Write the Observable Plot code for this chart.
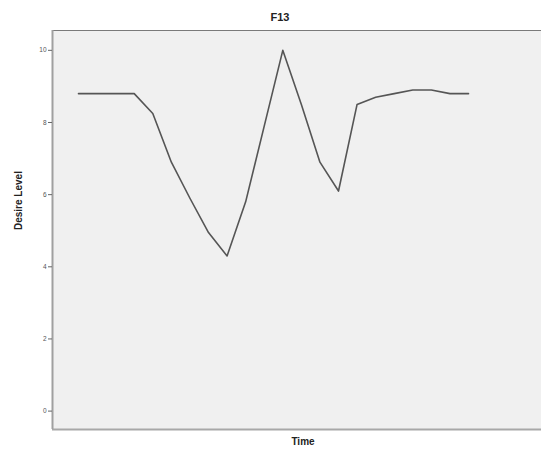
<!DOCTYPE html>
<html>
<head>
<meta charset="utf-8">
<script src="https://cdn.jsdelivr.net/npm/d3@7"></script>
<script src="https://cdn.jsdelivr.net/npm/@observablehq/plot@0.6"></script>
<style>
  html, body { margin: 0; padding: 0; background: #fff; }
  svg { display: block; }
</style>
</head>
<body>
<div id="chart"></div>
<script>
const timeIndex = [0,1,2,3,4,5,6,7,8,9,10,11,12,13,14,15,16,17,18,19,20,21];
const desireLevel = [8.8,8.8,8.8,8.8,8.25,6.9,5.9,4.95,4.3,5.8,7.9,10.0,8.5,6.9,6.1,8.5,8.7,8.8,8.9,8.9,8.8,8.8];
const yTicks = [0,2,4,6,8,10];
const chartTitle = "F13";
const xLabel = "Time";
const yLabel = "Desire Level";

const data = timeIndex.map((t, i) => ({t, v: desireLevel[i]}));

const chart = Plot.plot({
  width: 541,
  height: 454,
  marginLeft: 52,
  marginRight: 0,
  marginTop: 30,
  marginBottom: 25,
  style: {fontFamily: "Liberation Sans, Arial, sans-serif", background: "#fff"},
  x: {domain: [-1.4, 24.93], axis: null},
  y: {domain: [-0.51, 10.55], axis: null},
  marks: [
    Plot.frame({fill: "#f0f0f0", stroke: "none"}),
    Plot.ruleY([-0.51], {stroke: "#a8a8a8", strokeWidth: 2}),
    Plot.ruleY([10.55], {stroke: "#7a7a7a", strokeWidth: 1}),
    Plot.ruleX([-1.4], {stroke: "#a0a0a0", strokeWidth: 2}),
    Plot.axisY(yTicks, {
      anchor: "left",
      tickSize: 4,
      tickPadding: 2,
      fontSize: 6.5,
      stroke: "#666",
      fill: "#555",
      label: null
    }),
    Plot.line(data, {x: "t", y: "v", stroke: "#555", strokeWidth: 1.6}),
    Plot.text([chartTitle], {frameAnchor: "top", dy: -17, fontSize: 11, fontWeight: "bold", fill: "#222", dx: -17}),
    Plot.text([xLabel], {frameAnchor: "bottom", dy: 15, fontSize: 10, fontWeight: "bold", fill: "#222", dx: 6}),
    Plot.text([yLabel], {frameAnchor: "left", dx: -34, rotate: -90, fontSize: 10, fontWeight: "bold", fill: "#222"})
  ]
});
document.getElementById("chart").appendChild(chart);
</script>
</body>
</html>
